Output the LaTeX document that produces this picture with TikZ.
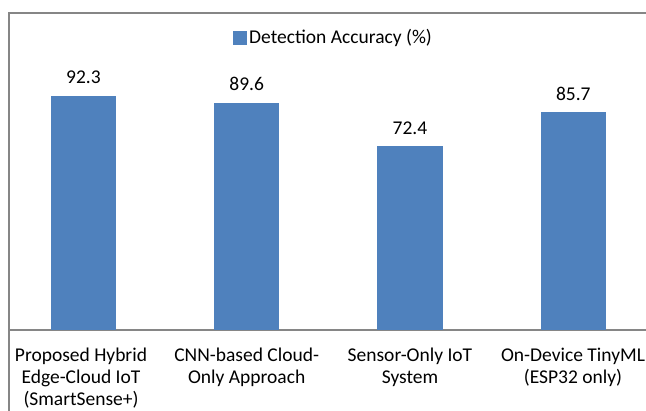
\documentclass[tikz,border=0pt]{standalone}
\usepackage{fontspec}
\setmainfont{Carlito}
\definecolor{barblue}{HTML}{4F81BD}
\definecolor{framegray}{HTML}{868686}
\begin{document}
\begin{tikzpicture}[x=1pt,y=-1pt,
  bar/.style={fill=barblue},
  frame/.style={draw=framegray,line width=1.3pt},
  lbl/.style={font=\fontsize{19.5}{22}\selectfont,align=center,inner sep=0pt,text=black}]
\useasboundingbox (0,0) rectangle (646,411);
\fill[white] (0,0) rectangle (646,411);
% frame and axis
\draw[frame] (9,411) -- (9,13) -- (646,13);
\draw[frame] (9,330) -- (646,330);
% bars (scale 2.538 px per %)
\fill[bar] (50.7,330) rectangle (116.2,95.7);
\fill[bar] (213.9,330) rectangle (279.4,102.6);
\fill[bar] (377.2,330) rectangle (442.7,146.2);
\fill[bar] (540.5,330) rectangle (606,112.5);
% value labels
\node[lbl] (v1) at (83.5,77) {92.3};
\node[lbl] (v2) at (246.7,84) {89.6};
\node[lbl] (v3) at (410,128) {72.4};
\node[lbl] (v4) at (573.3,94) {85.7};
% category labels
\node[lbl,anchor=north] (c1) at (81,348) {Proposed Hybrid\\Edge-Cloud IoT\\(SmartSense+)};
\node[lbl,anchor=north] (c2) at (246.7,348) {CNN-based Cloud-\\Only Approach};
\node[lbl,anchor=north] (c3) at (410,348) {Sensor-Only IoT\\System};
\node[lbl,anchor=north] (c4) at (573,348) {On-Device TinyML\\(ESP32 only)};
% legend
\fill[bar] (232.5,31.5) rectangle (246.5,45);
\node[lbl,anchor=west] (leg) at (249,38) {Detection Accuracy (\%)};
\end{tikzpicture}
\end{document}
